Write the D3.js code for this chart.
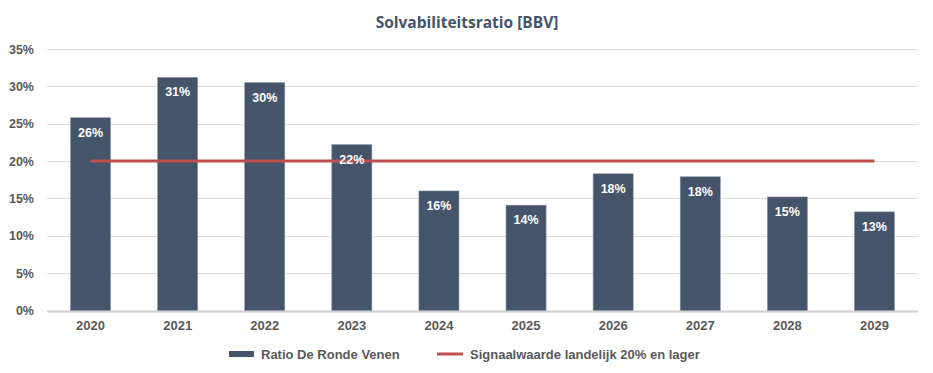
<!DOCTYPE html>
<html>
<head>
<meta charset="utf-8">
<script src="https://cdn.jsdelivr.net/npm/d3@7"></script>
<style>
    body { margin: 0; background: #fff; }
    text { font-family: "Liberation Sans", Arial, sans-serif; }
</style>
</head>
<body>
<script>
// chart data
var years = ["2020", "2021", "2022", "2023", "2024", "2025", "2026", "2027", "2028", "2029"];
var ratio = [25.8, 31.2, 30.5, 22.2, 16.0, 14.1, 18.3, 17.9, 15.2, 13.2];
var ratioLabels = ["26%", "31%", "30%", "22%", "16%", "14%", "18%", "18%", "15%", "13%"];
var signal = [20, 20, 20, 20, 20, 20, 20, 20, 20, 20];
var yTicks = [0, 5, 10, 15, 20, 25, 30, 35];

var w = 933, h = 373;
var margin = {top: 49, right: 15, bottom: 62.5, left: 47};

var svg = d3.select("body").append("svg")
    .attr("width", w)
    .attr("height", h);

// scales
var x = d3.scaleBand()
    .domain(years)
    .range([margin.left, w - margin.right])
    .paddingInner(0.54)
    .paddingOuter(0.27);

var y = d3.scaleLinear()
    .domain([0, 35])
    .range([h - margin.bottom, margin.top]);

// gridlines
svg.append("g")
    .attr("class", "grid")
    .selectAll("line")
    .data(yTicks)
    .enter()
    .append("line")
    .attr("x1", margin.left)
    .attr("x2", w - margin.right)
    .attr("y1", function (d) { return Math.round(y(d)) + 0.5; })
    .attr("y2", function (d) { return Math.round(y(d)) + 0.5; })
    .style("stroke", function (d) { return d === 0 ? "#d0d0d0" : "#dcdcdc"; })
    .style("stroke-width", function (d) { return d === 0 ? 2 : 1.2; });

// y axis
var yAxis = d3.axisLeft(y)
    .tickValues(yTicks)
    .tickSize(0)
    .tickPadding(13)
    .tickFormat(function (d) { return d + "%"; });

svg.append("g")
    .attr("class", "axis")
    .attr("transform", "translate(" + margin.left + ",0)")
    .call(yAxis)
    .call(function (g) { g.select(".domain").remove(); })
    .selectAll("text")
    .style("font-size", "12.5px")
    .style("font-weight", "bold")
    .style("fill", "#595959");

// x axis
var xAxis = d3.axisBottom(x).tickSize(0).tickPadding(10);

svg.append("g")
    .attr("class", "axis")
    .attr("transform", "translate(0," + (h - margin.bottom) + ")")
    .call(xAxis)
    .call(function (g) { g.select(".domain").remove(); })
    .selectAll("text")
    .style("font-size", "13px")
    .style("font-weight", "bold")
    .style("fill", "#595959");

// bars
svg.selectAll(".bar")
    .data(ratio)
    .enter()
    .append("rect")
    .attr("class", "bar")
    .attr("x", function (d, i) { return x(years[i]); })
    .attr("y", function (d) { return y(d); })
    .attr("width", x.bandwidth())
    .attr("height", function (d) { return y(0) - y(d); })
    .style("fill", "#44546a")
    .style("stroke", "#8a96a8")
    .style("stroke-width", 0.6);

// signal line
var line = d3.line()
    .x(function (d, i) { return x(years[i]) + x.bandwidth() / 2; })
    .y(function (d) { return y(d); });

svg.append("path")
    .datum(signal)
    .attr("d", line)
    .style("fill", "none")
    .style("stroke", "#c0504d")
    .style("stroke-width", 3);

// bar labels
svg.selectAll(".barLabel")
    .data(ratio)
    .enter()
    .append("text")
    .attr("class", "barLabel")
    .attr("text-anchor", "middle")
    .attr("x", function (d, i) { return x(years[i]) + x.bandwidth() / 2; })
    .attr("y", function (d) { return y(d) + 19; })
    .style("font-size", "12.5px")
    .style("font-weight", "bold")
    .style("fill", "#ffffff")
    .text(function (d, i) { return ratioLabels[i]; });

// title
svg.append("text")
    .attr("class", "title")
    .attr("text-anchor", "middle")
    .attr("x", 467)
    .attr("y", 28)
    .style("font-family", "'Open Sans', sans-serif")
    .style("font-size", "15.5px")
    .style("font-weight", "bold")
    .style("fill", "#44546a")
    .text("Solvabiliteitsratio [BBV]");

// legend
var legend = svg.append("g").attr("class", "legend");

legend.append("rect")
    .attr("x", 229)
    .attr("y", 351)
    .attr("width", 25)
    .attr("height", 6)
    .style("fill", "#44546a");

legend.append("text")
    .attr("x", 261)
    .attr("y", 358.5)
    .style("font-size", "13px")
    .style("font-weight", "bold")
    .style("fill", "#595959")
    .text("Ratio De Ronde Venen");

legend.append("line")
    .attr("x1", 437)
    .attr("x2", 463)
    .attr("y1", 354)
    .attr("y2", 354)
    .style("stroke", "#c0504d")
    .style("stroke-width", 3);

legend.append("text")
    .attr("x", 470)
    .attr("y", 358.5)
    .style("font-size", "13px")
    .style("font-weight", "bold")
    .style("fill", "#595959")
    .text("Signaalwaarde landelijk 20% en lager");
</script>
</body>
</html>
